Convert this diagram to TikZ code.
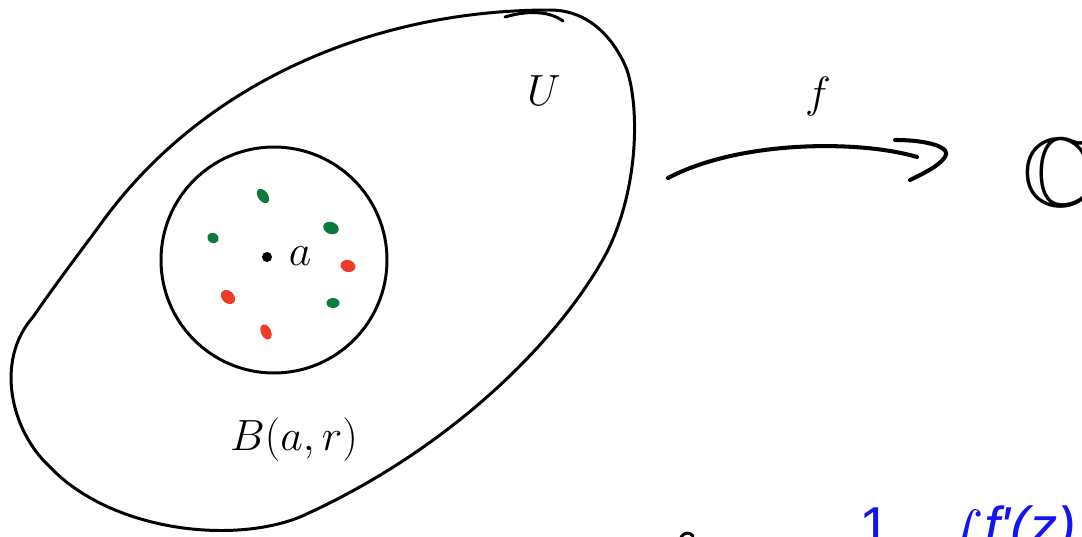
\documentclass[tikz,border=0pt]{standalone}
\usepackage{amssymb}
\usepackage{fontspec}
\newfontfamily\formfont{Liberation Sans}
\definecolor{dotgreen}{HTML}{0B7A3B}
\definecolor{dotred}{HTML}{EE3B2A}
\definecolor{formblue}{HTML}{1414F0}
\tikzset{
  pen/.style={line width=1.7pt, line cap=round, line join=round},
  heavypen/.style={line width=2.3pt, line cap=round, line join=round},
  lbl/.style={inner sep=0pt, text=black},
  gdot/.style={fill=dotgreen, draw=none},
  rdot/.style={fill=dotred, draw=none},
  formula/.style={inner sep=0pt, text=formblue, font=\formfont\fontsize{32}{32}\selectfont}
}
\begin{document}
\begin{tikzpicture}[x=0.02cm, y=-0.02cm]
\useasboundingbox (0,0) rectangle (1082,537);
\clip (0,0) rectangle (1082,537);
% outer region U
\draw[pen] (550,10) .. controls (590,10) and (615,40) .. (627,70)
  .. controls (640,110) and (638,190) .. (607,252)
  .. controls (560,340) and (450,450) .. (300,517)
  .. controls (230,545) and (110,530) .. (50,467)
  .. controls (10,430) and (-5,360) .. (33,317)
  .. controls (55,285) and (80,252) .. (100,225)
  .. controls (200,85) and (370,10) .. (550,10);
\draw[pen] (505,17) .. controls (525,11) and (548,10) .. (563,21);
% ball B(a,r)
\draw[pen] (274,260) circle [radius=113];
% centre a
\fill (267,257) circle [radius=5];
\node[lbl, font=\fontsize{23}{23}\selectfont] (alabel) at (300,256) {$a$};
% coloured points
\fill[gdot, rotate around={-55:(263,196)}] (263,196) ellipse [x radius=8, y radius=5];
\fill[gdot, rotate around={-20:(331,228)}] (331,228) ellipse [x radius=8, y radius=6];
\fill[gdot, rotate around={-30:(213,238)}] (213,238) ellipse [x radius=6, y radius=5];
\fill[gdot] (333,303) ellipse [x radius=6.5, y radius=5];
\fill[rdot, rotate around={-15:(348,266)}] (348,266) ellipse [x radius=7.5, y radius=6];
\fill[rdot, rotate around={-45:(228,297)}] (228,297) ellipse [x radius=8, y radius=6];
\fill[rdot, rotate around={-65:(266,332)}] (266,332) ellipse [x radius=8, y radius=5];
% labels
\node[lbl, font=\fontsize{33}{33}\selectfont] (U) at (544,91) {$U$};
\node[lbl, font=\fontsize{40}{40}\selectfont] (Blabel) at (294,440) {$B(a,r)$};
\node[lbl, font=\fontsize{55}{55}\selectfont] (f) at (818,97) {$f$};
\node[lbl, anchor=west, font=\fontsize{56}{56}\selectfont] (C) at (1022,173) {$\mathbb{C}$};
% arrow f : U -> C
\coordinate (arrstart) at (668,178);
\coordinate (arrend) at (917,157);
\coordinate (headtop) at (895,140);
\coordinate (headtip) at (945,157);
\coordinate (headbot) at (910,180);
\draw[heavypen] (arrstart) .. controls (740,140) and (860,140) .. (arrend);
\draw[heavypen] (headtop) .. controls (930,140) and (952,148) .. (headtip)
  .. controls (938,167) and (922,174) .. (headbot);
% small mark at the bottom
\draw[pen] (681,537) .. controls (684,532) and (690,532) .. (693,536);
% formula (cut off by the lower edge)
\node[formula, anchor=north] (one) at (875,507) {1};
\node[formula, anchor=north, font=\fontsize{30}{30}\selectfont] (integ) at (958,509) {$\displaystyle\int$};
\node[formula, anchor=north west] (fz) at (984,505) {\itshape f'(z)};
\end{tikzpicture}
\end{document}
